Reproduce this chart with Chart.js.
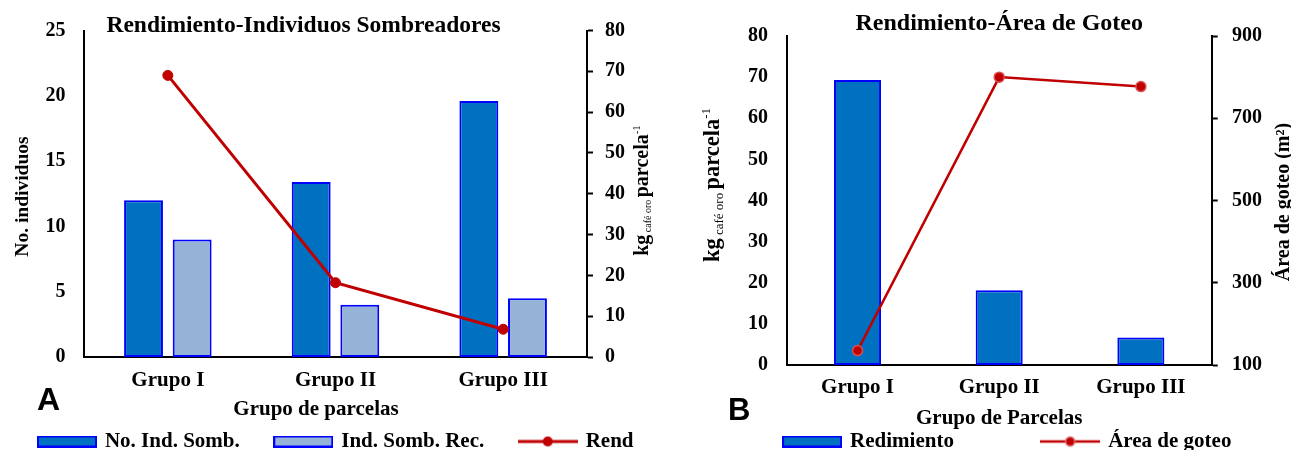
<!DOCTYPE html>
<html><head><meta charset="utf-8">
<script src="https://cdn.jsdelivr.net/npm/chart.js@4.4.1/dist/chart.umd.min.js"></script>
<style>
html,body{margin:0;padding:0;background:#fff;overflow:hidden;width:1291px;height:450px;}
#wrap{position:relative;width:1291px;height:450px;overflow:hidden;background:#fff;}
#cA{position:absolute;left:-10px;top:0;}
#cB{position:absolute;left:667px;top:0;}
</style></head><body>
<div id="wrap"><canvas id="cA" width="693" height="462"></canvas><canvas id="cB" width="682" height="462"></canvas></div>
<script>
// ---- data ----
const categories = ['Grupo I', 'Grupo II', 'Grupo III'];
const noIndSomb = [12, 13.4, 19.6];
const indSombRec = [9, 4, 4.5];
const rend = [69, 18.2, 6.8];
const redimiento = [69.3, 18.2, 6.7];
const areaGoteo = [135, 800, 777];
const yTicksA = [0, 5, 10, 15, 20, 25];
const y1TicksA = [0, 10, 20, 30, 40, 50, 60, 70, 80];
const yTicksB = [0, 10, 20, 30, 40, 50, 60, 70, 80];
const y1TicksB = [100, 300, 500, 700, 900];

const SERIF = '"Liberation Serif", "Times New Roman", serif';
const SANS = '"Liberation Sans", Arial, sans-serif';
const DARK = '#0070C0', LIGHT = '#95B3D7', EDGE = '#0000FF', RED = '#C00000';

Chart.defaults.font.family = SERIF;
Chart.defaults.font.weight = 'bold';
Chart.defaults.color = '#000';

function rangeOf(arr) { return {min: arr[0], max: arr[arr.length - 1], stepSize: arr[1] - arr[0]}; }

function barSwatch(fill) {
  const c = document.createElement('canvas'); c.width = 60; c.height = 12;
  const g = c.getContext('2d');
  g.fillStyle = fill; g.fillRect(0, 0, 60, 12);
  g.strokeStyle = EDGE; g.lineWidth = 2; g.strokeRect(1, 1, 58, 10);
  return c;
}
function lineSwatch(lw, r, ring) {
  const c = document.createElement('canvas'); c.width = 60; c.height = 14;
  const g = c.getContext('2d');
  g.strokeStyle = RED; g.lineWidth = lw;
  g.beginPath(); g.moveTo(0, 7); g.lineTo(60, 7); g.stroke();
  g.beginPath(); g.arc(30, 7, r, 0, Math.PI * 2); g.fillStyle = RED; g.fill();
  if (ring) { g.strokeStyle = ring; g.lineWidth = 1.5; g.stroke(); }
  return c;
}
function spacer() { const c = document.createElement('canvas'); c.width = 1; c.height = 1; return c; }

function rotText(ctx, bx, cy, parts) {
  ctx.save(); ctx.translate(bx, cy); ctx.rotate(-Math.PI / 2);
  ctx.textBaseline = 'alphabetic'; ctx.textAlign = 'left'; ctx.fillStyle = '#000';
  let total = 0;
  parts.forEach(p => { ctx.font = p.f; p.w = ctx.measureText(p.t).width; total += p.w; });
  let x = -total / 2;
  parts.forEach(p => { ctx.font = p.f; ctx.fillText(p.t, x, p.dy || 0); x += p.w; });
  ctx.restore();
}
function txt(ctx, s, x, y, font, align) {
  ctx.save(); ctx.font = font; ctx.fillStyle = '#000'; ctx.textAlign = align || 'center';
  ctx.textBaseline = 'alphabetic'; ctx.fillText(s, x, y); ctx.restore();
}

const noAnim = {animation: false, responsive: false, devicePixelRatio: 1};

// ---------- Chart A ----------
const textA = {
  id: 'textA',
  afterDraw(chart) {
    const ctx = chart.ctx, a = chart.chartArea;
    const mid = (a.left + a.right) / 2;
    txt(ctx, 'Rendimiento-Individuos Sombreadores', mid - 32, a.top + 1, 'bold 23.5px ' + SERIF);
    rotText(ctx, a.left - 56, a.top + 166, [{t: 'No. individuos', f: 'bold 19.5px ' + SERIF}]);
    rotText(ctx, a.right + 61, a.top + 160, [
      {t: 'kg', f: 'bold 20px ' + SERIF},
      {t: ' café oro ', f: 'normal 10px ' + SERIF, dy: 3},
      {t: 'parcela', f: 'bold 20px ' + SERIF},
      {t: '-1', f: 'normal 11px ' + SERIF, dy: -8}
    ]);
    txt(ctx, 'Grupo de parcelas', mid - 19.5, 415, 'bold 21px ' + SERIF);
    txt(ctx, 'A', 47, 410, 'bold 32px ' + SANS, 'left');
  }
};

new Chart(document.getElementById('cA'), {
  type: 'bar',
  data: {
    labels: categories,
    datasets: [
      {type: 'line', label: 'Rend', data: rend, yAxisID: 'y1', order: 0,
       borderColor: RED, backgroundColor: RED, borderWidth: 3, tension: 0,
       pointRadius: 5, pointBackgroundColor: RED, pointBorderColor: RED, pointBorderWidth: 1},
      {label: 'No. Ind. Somb.', data: noIndSomb, yAxisID: 'y', order: 1,
       backgroundColor: DARK, borderColor: EDGE, borderWidth: 2, borderSkipped: false,
       categoryPercentage: 0.58, barPercentage: 0.8},
      {label: 'Ind. Somb. Rec.', data: indSombRec, yAxisID: 'y', order: 2,
       backgroundColor: LIGHT, borderColor: EDGE, borderWidth: 2, borderSkipped: false,
       categoryPercentage: 0.58, barPercentage: 0.8}
    ]
  },
  options: Object.assign({}, noAnim, {
    layout: {padding: {top: 29, left: 0, right: 0, bottom: 0}},
    plugins: {
      tooltip: {enabled: false},
      title: {display: false},
      legend: {
        position: 'bottom',
        labels: {
          usePointStyle: true, pointStyleWidth: 55, boxHeight: 12, padding: 36,
          color: '#000', font: {size: 21, weight: 'bold', family: SERIF},
          generateLabels: () => [
            {text: 'No. Ind. Somb.', pointStyle: barSwatch(DARK), fillStyle: DARK, strokeStyle: EDGE, lineWidth: 0, hidden: false, datasetIndex: 1, fontColor: '#000'},
            {text: 'Ind. Somb. Rec.', pointStyle: barSwatch(LIGHT), fillStyle: LIGHT, strokeStyle: EDGE, lineWidth: 0, hidden: false, datasetIndex: 2, fontColor: '#000'},
            {text: 'Rend', pointStyle: lineSwatch(3, 5, null), fillStyle: RED, strokeStyle: RED, lineWidth: 0, hidden: false, datasetIndex: 0, fontColor: '#000'}
          ]
        }
      }
    },
    scales: {
      x: {
        grid: {display: false, drawTicks: false},
        border: {display: true, color: '#000', width: 2},
        ticks: {font: {size: 21, weight: 'bold'}, color: '#000', padding: 11},
        afterFit: s => { s.height = 38; }
      },
      y: Object.assign(rangeOf(yTicksA), {
        position: 'left',
        grid: {display: false, drawTicks: false},
        border: {display: true, color: '#000', width: 2},
        ticks: {stepSize: yTicksA[1] - yTicksA[0], font: {size: 20, weight: 'bold'}, color: '#000', padding: 18.5},
        afterFit: s => { s.width = 94; }
      }),
      y1: Object.assign(rangeOf(y1TicksA), {
        position: 'right',
        grid: {display: true, drawOnChartArea: false, drawTicks: true, tickLength: 6, color: '#000', tickColor: '#000', tickWidth: 2},
        border: {display: true, color: '#000', width: 2},
        ticks: {stepSize: y1TicksA[1] - y1TicksA[0], font: {size: 20, weight: 'bold'}, color: '#000', padding: 12},
        afterFit: s => { s.width = 96; }
      })
    }
  }),
  plugins: [textA]
});

// ---------- Chart B ----------
const textB = {
  id: 'textB',
  afterDraw(chart) {
    const ctx = chart.ctx, a = chart.chartArea;
    const mid = (a.left + a.right) / 2;
    txt(ctx, 'Rendimiento-Área de Goteo', mid, 30, 'bold 24px ' + SERIF);
    rotText(ctx, a.left - 68, 185, [
      {t: 'kg', f: 'bold 22.5px ' + SERIF},
      {t: ' café oro ', f: 'normal 13px ' + SERIF, dy: 4},
      {t: 'parcela', f: 'bold 22.5px ' + SERIF},
      {t: '-1', f: 'normal 13px ' + SERIF, dy: -9}
    ]);
    rotText(ctx, a.right + 77, 202, [{t: 'Área de goteo (m²)', f: 'bold 20px ' + SERIF}]);
    txt(ctx, 'Grupo de Parcelas', mid, 424, 'bold 21px ' + SERIF);
    txt(ctx, 'B', 61, 420, 'bold 31px ' + SANS, 'left');
  }
};

new Chart(document.getElementById('cB'), {
  type: 'bar',
  data: {
    labels: categories,
    datasets: [
      {type: 'line', label: 'Área de goteo', data: areaGoteo, yAxisID: 'y1', order: 0,
       borderColor: RED, backgroundColor: RED, borderWidth: 2.5, tension: 0,
       pointRadius: 5, pointBackgroundColor: RED, pointBorderColor: '#D85050', pointBorderWidth: 1.5},
      {label: 'Redimiento', data: redimiento, yAxisID: 'y', order: 1,
       backgroundColor: DARK, borderColor: EDGE, borderWidth: 2, borderSkipped: false,
       categoryPercentage: 1, barPercentage: 0.332}
    ]
  },
  options: Object.assign({}, noAnim, {
    layout: {padding: {top: 36, left: 0, right: 0, bottom: 0}},
    plugins: {
      tooltip: {enabled: false},
      title: {display: false},
      legend: {
        position: 'bottom',
        labels: {
          usePointStyle: true, pointStyleWidth: 55, boxHeight: 12, padding: 11.6,
          color: '#000', font: {size: 21, weight: 'bold', family: SERIF},
          generateLabels: () => [
            {text: 'Redimiento', pointStyle: barSwatch(DARK), fillStyle: DARK, strokeStyle: EDGE, lineWidth: 0, hidden: false, datasetIndex: 1, fontColor: '#000'},
            {text: '', pointStyle: spacer(), fillStyle: 'transparent', strokeStyle: 'transparent', lineWidth: 0, hidden: false, fontColor: '#000'},
            {text: 'Área de goteo', pointStyle: lineSwatch(2.5, 4.5, '#E07070'), fillStyle: RED, strokeStyle: RED, lineWidth: 0, hidden: false, datasetIndex: 0, fontColor: '#000'}
          ]
        }
      }
    },
    scales: {
      x: {
        grid: {display: false, drawTicks: false},
        border: {display: true, color: '#000', width: 2},
        ticks: {font: {size: 21, weight: 'bold'}, color: '#000', padding: 10},
        afterFit: s => { s.height = 54.4; }
      },
      y: Object.assign(rangeOf(yTicksB), {
        position: 'left',
        grid: {display: false, drawTicks: false},
        border: {display: true, color: '#000', width: 2},
        ticks: {stepSize: yTicksB[1] - yTicksB[0], font: {size: 20, weight: 'bold'}, color: '#000', padding: 18.7},
        afterFit: s => { s.width = 119.7; }
      }),
      y1: Object.assign(rangeOf(y1TicksB), {
        position: 'right',
        grid: {display: true, drawOnChartArea: false, drawTicks: true, tickLength: 6, color: '#000', tickColor: '#000', tickWidth: 2},
        border: {display: true, color: '#000', width: 2},
        ticks: {stepSize: y1TicksB[1] - y1TicksB[0], font: {size: 20, weight: 'bold'}, color: '#000', padding: 14.3},
        afterFit: s => { s.width = 137.3; }
      })
    }
  }),
  plugins: [textB]
});
</script>
</body></html>
